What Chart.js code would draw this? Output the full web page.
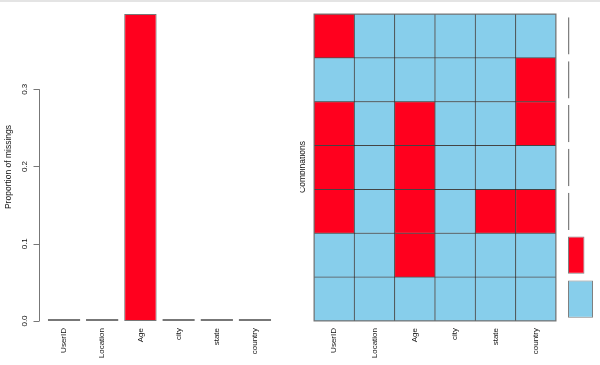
<!DOCTYPE html>
<html>
<head>
<meta charset="utf-8">
<script src="https://cdn.jsdelivr.net/npm/chart.js@4"></script>
<style>
html,body{margin:0;padding:0;background:#fff;}
#wrap{position:relative;width:600px;height:365px;overflow:hidden;background:#fff;}
#topline{position:absolute;left:0;top:0;width:600px;height:2px;background:#e4e4e4;}
canvas{position:absolute;top:0;}
</style>
</head>
<body>
<div id="wrap">
<canvas id="c1" width="300" height="365" style="left:0"></canvas>
<canvas id="c2" width="265" height="365" style="left:300px"></canvas>
<canvas id="c3" width="40" height="365" style="left:560px"></canvas>
<div id="topline"></div>
</div>
<script>
// ---- data ----
const variables = ["UserID", "Location", "Age", "city", "state", "country"];
const missingProportion = [0.0005, 0, 0.3974, 0, 0.0001, 0.0003];
const yTicks = [0, 0.1, 0.2, 0.3];
// combination patterns, top row first (1 = missing)
const comboRow1 = [1, 0, 0, 0, 0, 0];
const comboRow2 = [0, 0, 0, 0, 0, 1];
const comboRow3 = [1, 0, 1, 0, 0, 1];
const comboRow4 = [1, 0, 1, 0, 0, 0];
const comboRow5 = [1, 0, 1, 0, 1, 1];
const comboRow6 = [0, 0, 1, 0, 0, 0];
const comboRow7 = [0, 0, 0, 0, 0, 0];
const comboLabels = ["c1", "c2", "c3", "c4", "c5", "c6", "c7"];
const comboProportion = [0.0001, 0.0001, 0.0001, 0.0002, 0.0001, 0.3970, 0.6024];

const RED = "rgb(255,0,30)";
const BLUE = "#87CEEB";
const FONT = "Liberation Sans, Arial, Helvetica, sans-serif";
Chart.defaults.font.family = FONT;

function rotText(ctx, text, x, y, align, size) {
  ctx.save();
  ctx.translate(x, y);
  ctx.rotate(-Math.PI / 2);
  ctx.font = size + "px " + FONT;
  ctx.fillStyle = "#111";
  ctx.textAlign = align;
  ctx.textBaseline = "middle";
  ctx.fillText(text, 0, 0);
  ctx.restore();
}

function xLabels(chart, offsetTop) {
  const ctx = chart.ctx, xs = chart.scales.x;
  variables.forEach((v, i) => {
    rotText(ctx, v, xs.getPixelForValue(i), offsetTop, "right", 8);
  });
}

// ---- chart 1: proportion of missings ----
const axisPlugin = {
  id: "axis1",
  afterDraw(chart) {
    const ctx = chart.ctx, ys = chart.scales.y;
    const ax = 39.5;
    ctx.save();
    ctx.strokeStyle = "#777";
    ctx.lineWidth = 1;
    ctx.beginPath();
    ctx.moveTo(ax, ys.getPixelForValue(yTicks[0]));
    ctx.lineTo(ax, ys.getPixelForValue(yTicks[yTicks.length - 1]));
    yTicks.forEach(t => {
      const py = Math.round(ys.getPixelForValue(t)) + 0.5;
      ctx.moveTo(ax, py);
      ctx.lineTo(ax - 6, py);
    });
    ctx.stroke();
    ctx.restore();
    yTicks.forEach(t => rotText(ctx, t.toFixed(1), 25, ys.getPixelForValue(t), "center", 8));
    rotText(ctx, "Proportion of missings", 9, 167, "center", 8.5);
    xLabels(chart, 328);
  }
};

new Chart(document.getElementById("c1"), {
  type: "bar",
  data: {
    labels: variables,
    datasets: [{
      data: missingProportion,
      backgroundColor: RED,
      borderColor: "#777",
      borderWidth: 1,
      borderSkipped: false,
      minBarLength: 2,
      barPercentage: 0.85,
      categoryPercentage: 1
    }]
  },
  options: {
    responsive: false,
    animation: false,
    devicePixelRatio: 1,
    layout: { padding: { left: 45, right: 26, top: 14, bottom: 44 } },
    plugins: { legend: { display: false }, tooltip: { enabled: false } },
    scales: {
      x: { display: false },
      y: { display: false, min: 0, max: 0.3974 }
    }
  },
  plugins: [axisPlugin]
});

// ---- chart 2: combinations grid ----
const rowsTopFirst = [comboRow1, comboRow2, comboRow3, comboRow4, comboRow5, comboRow6, comboRow7];
const gridDatasets = rowsTopFirst.slice().reverse().map(row => ({
  data: row.map(() => 1),
  backgroundColor: row.map(m => m ? RED : BLUE),
  borderColor: "rgba(0,0,0,0.6)",
  borderWidth: 0.8,
  borderSkipped: false,
  barPercentage: 1,
  categoryPercentage: 1
}));

const gridPlugin = {
  id: "grid2",
  afterDraw(chart) {
    const ctx = chart.ctx, a = chart.chartArea;
    ctx.save();
    ctx.strokeStyle = "#777";
    ctx.lineWidth = 1;
    ctx.strokeRect(a.left, a.top, a.right - a.left, a.bottom - a.top);
    ctx.restore();
    rotText(ctx, "Combinations", 3, 167, "center", 8.5);
    xLabels(chart, 328);
  }
};

new Chart(document.getElementById("c2"), {
  type: "bar",
  data: { labels: variables, datasets: gridDatasets },
  options: {
    responsive: false,
    animation: false,
    devicePixelRatio: 1,
    layout: { padding: { left: 14, right: 9, top: 14, bottom: 44 } },
    plugins: { legend: { display: false }, tooltip: { enabled: false } },
    scales: {
      x: { display: false, stacked: true },
      y: { display: false, stacked: true, min: 0, max: rowsTopFirst.length }
    }
  },
  plugins: [gridPlugin]
});

// ---- chart 3: combination frequencies ----
new Chart(document.getElementById("c3"), {
  type: "bar",
  data: {
    labels: comboLabels,
    datasets: [{
      data: comboProportion,
      backgroundColor: rowsTopFirst.map(r => r.some(m => m) ? RED : BLUE),
      borderColor: "#808080",
      borderWidth: 1,
      borderSkipped: false,
      minBarLength: 1.5,
      barPercentage: 0.85,
      categoryPercentage: 1
    }]
  },
  options: {
    indexAxis: "y",
    responsive: false,
    animation: false,
    devicePixelRatio: 1,
    layout: { padding: { left: 8, right: 7, top: 14, bottom: 44 } },
    plugins: { legend: { display: false }, tooltip: { enabled: false } },
    scales: {
      x: { display: false, min: 0, max: 0.6024 },
      y: { display: false }
    }
  }
});
</script>
</body>
</html>
